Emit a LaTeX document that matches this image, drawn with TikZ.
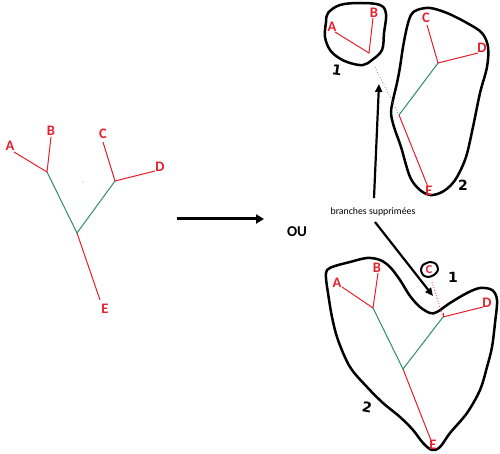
\documentclass[tikz,border=0pt]{standalone}
\usepackage{fontspec}
\setmainfont{Carlito}
\newfontfamily\handfont{DejaVu Sans}
\usetikzlibrary{arrows.meta}
\definecolor{tred}{RGB}{228,32,44}
\definecolor{tgreen}{RGB}{46,140,110}
\tikzset{
  redb/.style={draw=tred,line width=1pt},
  greenb/.style={draw=tgreen,line width=1pt},
  lab/.style={text=tred,font=\bfseries\fontsize{14.5}{14.5}\selectfont,inner sep=0pt},
  blob/.style={draw=black,line width=2.5pt,line join=round},
  num/.style={font=\handfont\bfseries\fontsize{14}{14}\selectfont,inner sep=0pt},
  bigarrow/.style={line width=3pt,-{Triangle[length=8pt,width=9pt]}},
}
\begin{document}
\begin{tikzpicture}[x=1pt,y=-1pt]
\useasboundingbox (0,0) rectangle (500,454);
% ---------- left tree ----------
\coordinate (lab) at (47,172);
\coordinate (lr) at (77,233);
\coordinate (lcd) at (115,181);
\coordinate (lA) at (14,152);
\coordinate (lB) at (51,137);
\coordinate (lC) at (103,142);
\coordinate (lD) at (155,171);
\coordinate (lE) at (100,300);
\draw[redb] (lA) -- (lab) -- (lB);
\draw[redb] (lC) -- (lcd) -- (lD);
\draw[redb] (lr) -- (lE);
\draw[greenb] (lab) -- (lr) -- (lcd);
\node[lab] (tA) at (10,146) {A};
\node[lab] (tB) at (51,131) {B};
\node[lab] (tC) at (103,134) {C};
\node[lab] (tD) at (160,167) {D};
\node[lab] (tE) at (105,309) {E};
\fill[gray!60] (83,182) circle (0.6);
% ---------- big arrow and OU ----------
\coordinate (arS) at (177,219);
\coordinate (arE) at (264,219);
\draw[bigarrow] (arS) -- (arE);
\node[font=\bfseries\fontsize{15}{15}\selectfont,inner sep=0pt] (ou) at (297,232) {OU};
% ---------- top right ----------
\draw[blob] plot[smooth cycle,tension=0.6] coordinates {(328,13) (340,5) (360,3) (380,5) (386,14) (384,33) (382,50) (372,60) (363,65) (350,63) (339,58) (330,50) (325,37) (326,22)};
\node[num,rotate=-8] (n1a) at (337,70) {1};
\coordinate (tab) at (369,53);
\coordinate (tA1) at (335,32);
\coordinate (tB1) at (373,18);
\draw[redb] (tA1) -- (tab) -- (tB1);
\node[lab] (tAl) at (332,27) {A};
\node[lab] (tBl) at (374,13) {B};
\draw[blob] plot[smooth cycle,tension=0.55] coordinates {(417,10) (430,8) (447,13) (467,23) (482,33) (488,47) (487,67) (480,93) (473,127) (466,157) (457,177) (449,187) (440,193) (430,195) (420,190) (410,177) (401,147) (394,127) (391,113) (393,100) (397,83) (400,67) (403,47) (407,27) (411,15)};
\node[num] (n2a) at (463,185) {2};
\coordinate (tcd) at (438,63);
\coordinate (tr2) at (399,115);
\coordinate (tC2) at (427,25);
\coordinate (tD2) at (478,53);
\coordinate (tE2) at (428,187);
\draw[redb] (tC2) -- (tcd) -- (tD2);
\draw[redb] (tr2) -- (tE2);
\draw[greenb] (tcd) -- (tr2);
\node[lab] (tCl) at (426,18) {C};
\node[lab] (tDl) at (482,48) {D};
\node[lab] (tEl) at (429,191) {E};
\coordinate (cutS) at (375,67);
\draw[gray,line width=0.8pt,dotted] (cutS) -- (tr2);
% ---------- label and arrows ----------
\node[font=\fontsize{9.8}{9.8}\selectfont,inner sep=1pt] (bs) at (373,212) {branches supprimées};
\coordinate (upS) at (374,198);
\coordinate (upE) at (379,84);
\draw[line width=2.2pt,-{Triangle[length=8pt,width=7pt]}] (upS) -- (upE);
\coordinate (dnS) at (375,222);
\coordinate (dnE) at (433,296);
\draw[line width=2.2pt,-{Triangle[length=8pt,width=7pt]}] (dnS) -- (dnE);
% ---------- bottom right ----------
\draw[blob] plot[smooth cycle,tension=0.55] coordinates {(327,270) (335,266) (350,262) (367,258) (380,260) (390,267) (400,280) (410,296) (420,307) (430,313) (437,312) (450,303) (467,293) (480,288) (492,290) (497,300) (495,323) (492,347) (487,367) (480,390) (467,413) (450,433) (440,447) (432,450) (423,443) (413,430) (400,417) (383,403) (367,387) (350,367) (338,340) (332,317) (328,293) (326,278)};
\draw[blob,line width=2pt] plot[smooth cycle,tension=0.5] coordinates {(423,265) (430,262) (436,264) (438,270) (434,275) (428,277) (423,275) (421,270)};
\node[lab,font=\bfseries\fontsize{12}{12}\selectfont] (bCl) at (429,270) {C};
\node[num] (n1b) at (453,277) {1};
\node[num,rotate=-10] (n2b) at (367,407) {2};
\coordinate (bab) at (373,308);
\coordinate (br) at (403,369);
\coordinate (bdj) at (443,317);
\coordinate (bA) at (342,287);
\coordinate (bB) at (378,273);
\coordinate (bD) at (483,307);
\coordinate (bE) at (432,443);
\coordinate (bcut) at (432,282);
\draw[redb] (bA) -- (bab) -- (bB);
\draw[redb] (bdj) -- (bD);
\draw[redb] (br) -- (bE);
\draw[greenb] (bab) -- (br) -- (bdj);
\draw[redb] (bdj) -- ++(0,-4);
\draw[tred,line width=0.8pt,dotted] (bcut) -- (bdj);
\node[lab] (bAl) at (337,283) {A};
\node[lab] (bBl) at (377,268) {B};
\node[lab] (bDl) at (487,303) {D};
\node[lab] (bEl) at (433,445) {E};
\end{tikzpicture}
\end{document}
